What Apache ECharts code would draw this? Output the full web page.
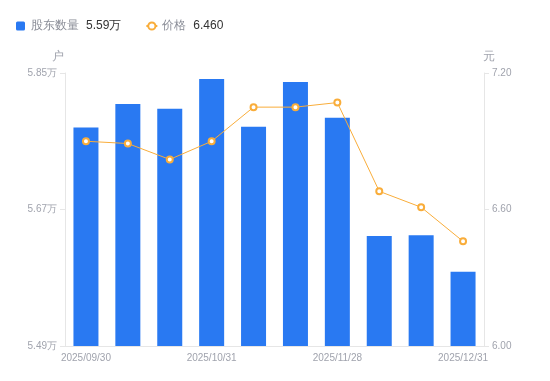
<!DOCTYPE html>
<html>
<head>
<meta charset="utf-8">
<script src="https://cdn.jsdelivr.net/npm/echarts@6/dist/echarts.min.js"></script>
<style>
html,body{margin:0;padding:0;background:#fff;}
#c{width:550px;height:381px;}
</style>
</head>
<body>
<div id="c"></div>
<script>
const categories = ['2025/09/30','2025/10/15','2025/10/20','2025/10/31','2025/11/10','2025/11/20','2025/11/28','2025/12/10','2025/12/20','2025/12/31'];
const holders = [57780, 58090, 58030, 58420, 57790, 58380, 57910, 56350, 56360, 55880];
const prices = [6.90, 6.89, 6.82, 6.90, 7.05, 7.05, 7.07, 6.68, 6.61, 6.46];
const leftTicks = [54900, 56700, 58500];

const labelColor = '#a0a3ad';
const lineColor = '#e6e6e6';
const lastHolder = (holders[holders.length-1]/10000).toFixed(2) + '万';
const lastPrice = prices[prices.length-1].toFixed(3);

const chart = echarts.init(document.getElementById('c'), null, {renderer:'canvas'});
chart.setOption({
  animation: false,
  legend: {
    left: 11, top: 15,
    itemWidth: 11, itemHeight: 9, itemGap: 24,
    symbolKeepAspect: true,
    data: [
      {name: '股东数量', icon: 'path://M1.5,0 H7.5 A1.5,1.5 0 0 1 9,1.5 V7.5 A1.5,1.5 0 0 1 7.5,9 H1.5 A1.5,1.5 0 0 1 0,7.5 V1.5 A1.5,1.5 0 0 1 1.5,0 Z'},
      {name: '价格'}
    ],
    formatter: function(name){
      const v = name === '股东数量' ? lastHolder : lastPrice;
      return '{n|' + name + '}{v|' + v + '}';
    },
    textStyle: {
      fontSize: 12,
      rich: {
        n: {fontSize: 12, color: '#8a8d97'},
        v: {fontSize: 12, color: '#333333', padding: [0,0,0,7]}
      }
    }
  },
  grid: {left: 65, right: 66, top: 73, bottom: 35, containLabel: false},
  xAxis: {
    type: 'category',
    data: categories,
    boundaryGap: true,
    axisLine: {show: true, lineStyle: {color: lineColor}},
    axisTick: {show: false},
    axisLabel: {interval: 2, color: labelColor, fontSize: 10, margin: 7}
  },
  yAxis: [
    {
      type: 'value',
      min: 54900, max: 58500,
      name: '户',
      nameLocation: 'end',
      nameGap: 10,
      nameTextStyle: {color: labelColor, fontSize: 12, padding: [0,14,0,0]},
      axisLine: {show: true, lineStyle: {color: lineColor}},
      axisTick: {show: true, length: 5, lineStyle: {color: lineColor}, customValues: leftTicks},
      splitLine: {show: false},
      axisLabel: {
        color: labelColor, fontSize: 10, margin: 8,
        customValues: leftTicks,
        formatter: v => (v/10000).toFixed(2) + '万'
      }
    },
    {
      type: 'value',
      min: 6.0, max: 7.2, interval: 0.6,
      position: 'right',
      name: '元',
      nameLocation: 'end',
      nameGap: 10,
      nameTextStyle: {color: labelColor, fontSize: 12, padding: [0,0,0,10]},
      axisLine: {show: true, lineStyle: {color: lineColor}},
      axisTick: {show: true, length: 5, lineStyle: {color: lineColor}},
      splitLine: {show: false},
      axisLabel: {
        color: labelColor, fontSize: 10, margin: 8,
        formatter: v => v.toFixed(2)
      }
    }
  ],
  series: [
    {
      name: '股东数量',
      type: 'bar',
      data: holders,
      yAxisIndex: 0,
      barWidth: 25,
      itemStyle: {color: '#2979f2'}
    },
    {
      name: '价格',
      type: 'line',
      data: prices,
      yAxisIndex: 1,
      symbol: 'emptyCircle',
      symbolSize: 6,
      lineStyle: {color: '#f9ad3a', width: 1},
      itemStyle: {color: '#f9ad3a', borderWidth: 1.5}
    }
  ]
});
</script>
</body>
</html>
